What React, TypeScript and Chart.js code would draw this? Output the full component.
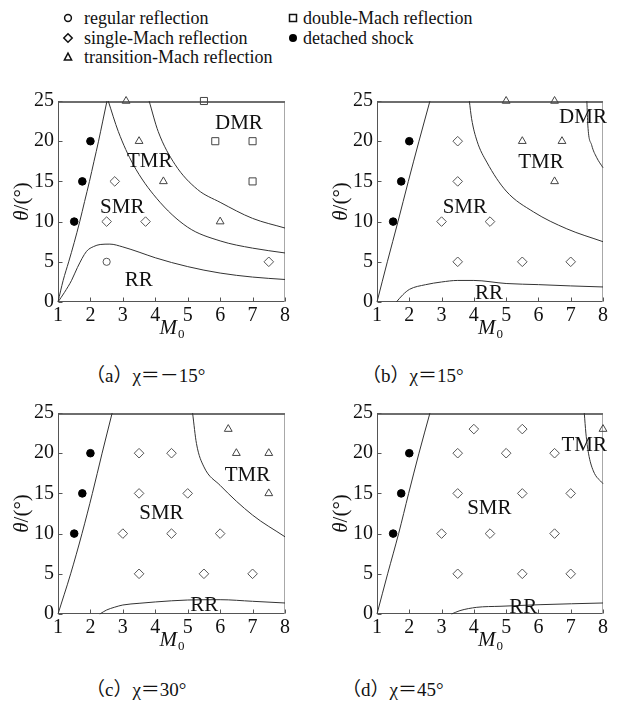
import React, { useEffect, useRef } from "react";
import { Chart, registerables } from "chart.js";

Chart.register(...registerables);

type Pt = [number, number];
type Label = [string, number, number];

const SERIF = "'Liberation Serif', 'Times New Roman', serif";
const TEXT = "#111";
const CURVE = "#333";
const OPEN = "#555";

const M_TICKS = [1, 2, 3, 4, 5, 6, 7, 8];
const THETA_TICKS = [0, 5, 10, 15, 20, 25];

// ---------- (a) chi = -15 deg ----------
const A_REGULAR: Pt[] = [[2.5, 5]];
const A_SINGLE: Pt[] = [[2.5, 10], [3.7, 10], [2.75, 15], [7.5, 5]];
const A_TRANSITION: Pt[] = [[3.1, 25], [3.5, 20], [4.25, 15], [6, 10]];
const A_DOUBLE: Pt[] = [[5.5, 25], [5.85, 20], [7, 20], [7, 15]];
const A_DETACHED: Pt[] = [[1.5, 10], [1.75, 15], [2, 20]];
const A_CURVE_DETACH: Pt[] = [[1, 0], [1.16, 2.7], [1.33, 5], [1.5, 7.4], [1.67, 10], [1.82, 12.5], [1.97, 15], [2.11, 17.5], [2.25, 20], [2.38, 22.5], [2.51, 25]];
const A_CURVE_RR: Pt[] = [[1, 0], [1.2, 1.2], [1.42, 2.7], [1.6, 4.3], [1.88, 6.3], [2.1, 6.9], [2.3, 7.15], [2.6, 7.2], [3, 6.85], [3.5, 6.2], [4, 5.5], [5, 4.4], [6, 3.6], [7, 3.1], [8, 2.8]];
const A_CURVE_SMR: Pt[] = [[2.55, 25], [2.86, 21.2], [3.32, 17.1], [4.04, 12.9], [5, 9.3], [6, 7.6], [7, 6.7], [8, 6.1]];
const A_CURVE_TMR: Pt[] = [[3.81, 25], [4.09, 21.2], [4.61, 17.1], [5.3, 14], [6, 12.4], [7, 10.4], [8, 9.2]];
const A_LABELS: Label[] = [["DMR", 6.58, 22.2], ["TMR", 3.83, 17.5], ["SMR", 2.98, 11.8], ["RR", 3.49, 2.7]];

// ---------- (b) chi = 15 deg ----------
const B_REGULAR: Pt[] = [];
const B_SINGLE: Pt[] = [[3.5, 20], [3.5, 15], [3, 10], [4.5, 10], [3.5, 5], [5.5, 5], [7, 5]];
const B_TRANSITION: Pt[] = [[5, 25], [6.5, 25], [5.5, 20], [6.73, 20], [6.5, 15]];
const B_DOUBLE: Pt[] = [];
const B_DETACHED: Pt[] = [[1.5, 10], [1.75, 15], [2, 20]];
const B_CURVE_DETACH: Pt[] = [[1, 0], [1.32, 5], [1.65, 10], [1.97, 15], [2.3, 20], [2.64, 25]];
const B_CURVE_RR: Pt[] = [[1.6, 0], [1.8, 0.9], [2.01, 1.58], [2.5, 2.15], [3, 2.49], [3.5, 2.68], [4, 2.68], [5, 2.3], [6, 2.16], [7, 2.0], [8, 1.87]];
const B_CURVE_SMR: Pt[] = [[3.86, 25], [3.93, 22.8], [4.1, 20], [4.4, 17.4], [5, 13.8], [5.85, 11.2], [6.88, 9.1], [8, 7.5]];
const B_CURVE_TMR: Pt[] = [[7.5, 25], [7.53, 22], [7.65, 19.5], [7.8, 18], [8, 16.7]];
const B_LABELS: Label[] = [["DMR", 7.38, 23.0], ["TMR", 6.08, 17.4], ["SMR", 3.72, 11.8], ["RR", 4.47, 1.0]];

// ---------- (c) chi = 30 deg ----------
const C_REGULAR: Pt[] = [];
const C_SINGLE: Pt[] = [[3.5, 20], [4.5, 20], [3.5, 15], [5, 15], [3, 10], [4.5, 10], [6, 10], [3.5, 5], [5.5, 5], [7, 5]];
const C_TRANSITION: Pt[] = [[6.25, 23], [6.5, 20], [7.5, 20], [7.5, 15]];
const C_DOUBLE: Pt[] = [];
const C_DETACHED: Pt[] = [[1.5, 10], [1.75, 15], [2, 20]];
const C_CURVE_DETACH: Pt[] = [[1, 0], [1.39, 5], [1.74, 10], [2.06, 15], [2.36, 20], [2.67, 25]];
const C_CURVE_RR: Pt[] = [[2.29, 0], [2.5, 0.5], [2.75, 0.85], [3, 1.12], [3.5, 1.33], [4, 1.5], [5, 1.74], [6, 1.78], [7, 1.58], [8, 1.37]];
const C_CURVE_SMR: Pt[] = [[5.15, 25], [5.27, 21.2], [5.5, 18.3], [6, 16], [7, 12.3], [8, 9.6]];
const C_LABELS: Label[] = [["TMR", 6.84, 17.2], ["SMR", 4.19, 12.5], ["RR", 5.51, 1.0]];

// ---------- (d) chi = 45 deg ----------
const D_REGULAR: Pt[] = [];
const D_SINGLE: Pt[] = [[4, 23], [5.5, 23], [3.5, 20], [5, 20], [6.5, 20], [3.5, 15], [5.5, 15], [7, 15], [3, 10], [4.5, 10], [6.5, 10], [3.5, 5], [5.5, 5], [7, 5]];
const D_TRANSITION: Pt[] = [[8, 23]];
const D_DOUBLE: Pt[] = [];
const D_DETACHED: Pt[] = [[1.5, 10], [1.75, 15], [2, 20]];
const D_CURVE_DETACH: Pt[] = [[1, 0], [1.33, 5], [1.67, 10], [1.98, 15], [2.3, 20], [2.64, 25]];
const D_CURVE_RR: Pt[] = [[3.31, 0], [3.57, 0.42], [4.09, 0.83], [4.81, 0.96], [6.05, 1.16], [8, 1.37]];
const D_CURVE_SMR: Pt[] = [[7.42, 25], [7.47, 22.5], [7.55, 20], [7.7, 17.8], [8, 16.2]];
const D_LABELS: Label[] = [["TMR", 7.42, 21.0], ["SMR", 4.48, 13.1], ["RR", 5.53, 0.83]];

const LEGEND_LEFT = ["regular reflection", "single-Mach reflection", "transition-Mach reflection"];
const LEGEND_RIGHT = ["double-Mach reflection", "detached shock"];

const CAPTIONS = ["（a）χ＝－15°", "（b）χ＝15°", "（c）χ＝30°", "（d）χ＝45°"];

const toXY = (pts: Pt[]) => pts.map(([x, y]) => ({ x, y }));

function line(ctx: CanvasRenderingContext2D, x1: number, y1: number, x2: number, y2: number) {
  ctx.beginPath();
  ctx.moveTo(x1, y1);
  ctx.lineTo(x2, y2);
  ctx.stroke();
}

const framePlugin = {
  id: "frame",
  beforeDatasetsDraw(chart: any) {
    const { ctx, chartArea: ca } = chart;
    const xs = chart.scales.x;
    const ys = chart.scales.y;
    const L = Math.round(ca.left) + 0.5;
    const R = Math.round(ca.right) - 0.5;
    const T = Math.round(ca.top);
    const B = Math.round(ca.bottom) - 0.5;
    ctx.save();
    ctx.lineWidth = 1;
    ctx.strokeStyle = "#a8a8a8";
    line(ctx, R, T, R, B);
    ctx.lineWidth = 2;
    ctx.strokeStyle = "#6e6e6e";
    line(ctx, L - 0.5, T + 1, R + 0.5, T + 1);
    ctx.lineWidth = 1;
    ctx.strokeStyle = "#555";
    line(ctx, L, T, L, B);
    line(ctx, L, B, R, B);
    M_TICKS.forEach((v) => {
      const px = Math.round(xs.getPixelForValue(v)) + 0.5;
      line(ctx, px, B, px, B - 4);
    });
    THETA_TICKS.forEach((v) => {
      const py = Math.round(ys.getPixelForValue(v)) + 0.5;
      line(ctx, L, py, L + 4, py);
    });
    ctx.restore();
  },
  afterDraw(chart: any) {
    const { ctx, chartArea: ca } = chart;
    const opts = chart.options.plugins.frame || {};
    const xs = chart.scales.x;
    const ys = chart.scales.y;
    ctx.save();
    ctx.fillStyle = TEXT;
    // region labels
    ctx.font = `21px ${SERIF}`;
    ctx.textAlign = "center";
    ctx.textBaseline = "middle";
    (opts.labels || []).forEach(([t, x, y]: Label) => {
      ctx.fillText(t, xs.getPixelForValue(x), ys.getPixelForValue(y));
    });
    // x title: italic M with subscript 0
    ctx.textAlign = "left";
    ctx.textBaseline = "alphabetic";
    ctx.font = `italic 21px ${SERIF}`;
    const wM = ctx.measureText("M").width;
    ctx.font = `13px ${SERIF}`;
    const w0 = ctx.measureText("0").width;
    const cx = (ca.left + ca.right) / 2;
    const base = ca.bottom + 32;
    const sx = cx - (wM + w0) / 2;
    ctx.font = `italic 21px ${SERIF}`;
    ctx.fillText("M", sx, base);
    ctx.font = `13px ${SERIF}`;
    ctx.fillText("0", sx + wM + 1, base + 4);
    // y title: italic theta + "/(°)"
    ctx.translate(ca.left - 36, (ca.top + ca.bottom) / 2);
    ctx.rotate(-Math.PI / 2);
    ctx.textBaseline = "middle";
    ctx.font = `italic 21px ${SERIF}`;
    const wT = ctx.measureText("θ").width;
    ctx.font = `21px ${SERIF}`;
    const wR = ctx.measureText("/(°)").width;
    const st = -(wT + wR) / 2;
    ctx.font = `italic 21px ${SERIF}`;
    ctx.fillText("θ", st, 0);
    ctx.font = `21px ${SERIF}`;
    ctx.fillText("/(°)", st + wT, 0);
    ctx.restore();
  },
};

type PanelProps = {
  left: number;
  top: number;
  width: number;
  padRight: number;
  regular: Pt[];
  single: Pt[];
  transition: Pt[];
  double: Pt[];
  detached: Pt[];
  curves: Pt[][];
  labels: Label[];
};

const PANEL_H = 260;

function Panel(p: PanelProps) {
  const ref = useRef<HTMLCanvasElement>(null);
  useEffect(() => {
    const curveSets = p.curves.map((c) => ({
      data: toXY(c),
      showLine: true,
      borderColor: CURVE,
      borderWidth: 1,
      pointRadius: 0,
      cubicInterpolationMode: "monotone",
      fill: false,
      clip: false,
    }));
    const mk = (pts: Pt[], style: string, r: number, fill: string, stroke: string) => ({
      data: toXY(pts),
      showLine: false,
      pointStyle: style,
      pointRadius: r,
      borderWidth: 1,
      borderColor: stroke,
      backgroundColor: fill,
      clip: false,
    });
    const chart = new Chart(ref.current as HTMLCanvasElement, {
      type: "scatter",
      data: {
        datasets: [
          ...curveSets,
          mk(p.regular, "circle", 3.6, "rgba(255,255,255,0)", OPEN),
          mk(p.single, "rectRot", 4.8, "rgba(255,255,255,0)", OPEN),
          mk(p.transition, "triangle", 4.5, "rgba(255,255,255,0)", "#444"),
          mk(p.double, "rect", 5, "rgba(255,255,255,0)", "#444"),
          mk(p.detached, "circle", 3.8, "#000", "#000"),
        ] as any,
      },
      options: {
        responsive: false,
        animation: false,
        events: [],
        layout: { padding: { top: 12, right: p.padRight, left: 0, bottom: 0 } },
        plugins: {
          legend: { display: false },
          tooltip: { enabled: false },
          frame: { labels: p.labels },
        } as any,
        scales: {
          x: {
            type: "linear",
            min: 1,
            max: 8,
            grid: { display: false, drawTicks: false },
            border: { display: false },
            ticks: { padding: 2, color: TEXT, font: { family: SERIF, size: 20 } },
            afterBuildTicks: (s: any) => {
              s.ticks = M_TICKS.map((v) => ({ value: v }));
            },
            afterFit: (s: any) => {
              s.height = PANEL_H - 12 - 201;
              s.paddingLeft = 0;
              s.paddingRight = 0;
            },
          },
          y: {
            type: "linear",
            min: 0,
            max: 25,
            grid: { display: false, drawTicks: false },
            border: { display: false },
            ticks: { padding: 4, color: TEXT, font: { family: SERIF, size: 20 } },
            afterBuildTicks: (s: any) => {
              s.ticks = THETA_TICKS.map((v) => ({ value: v }));
            },
            afterFit: (s: any) => {
              s.width = 58;
              s.paddingTop = 0;
              s.paddingBottom = 0;
            },
          },
        },
      } as any,
      plugins: [framePlugin as any],
    });
    return () => chart.destroy();
  }, []);
  return (
    <canvas
      ref={ref}
      width={p.width}
      height={PANEL_H}
      style={{ position: "absolute", left: p.left, top: p.top, width: p.width, height: PANEL_H }}
    />
  );
}

function Icon({ kind }: { kind: string }) {
  const s = { fill: "none", stroke: "#111", strokeWidth: 1.5 };
  return (
    <svg width="12" height="12" viewBox="0 0 12 12" style={{ display: "block" }}>
      {kind === "circle" && <circle cx="6" cy="6" r="3.4" {...s} />}
      {kind === "diamond" && <polygon points="6,1.8 10.2,6 6,10.2 1.8,6" {...s} />}
      {kind === "triangle" && <polygon points="6,2.2 9.6,9 2.4,9" {...s} />}
      {kind === "square" && <rect x="2.5" y="2.5" width="7" height="7" {...s} />}
      {kind === "dot" && <circle cx="6" cy="6" r="4" fill="#000" />}
    </svg>
  );
}

function LegendItem({ x, y, tx, kind, text }: { x: number; y: number; tx: number; kind: string; text: string }) {
  return (
    <>
      <div style={{ position: "absolute", left: x - 6, top: y - 6 }}>
        <Icon kind={kind} />
      </div>
      <div
        style={{
          position: "absolute",
          left: tx,
          top: y - 11,
          height: 22,
          lineHeight: "22px",
          fontFamily: SERIF,
          fontSize: 18,
          color: TEXT,
          whiteSpace: "nowrap",
        }}
      >
        {text}
      </div>
    </>
  );
}

function Caption({ x, y, text }: { x: number; y: number; text: string }) {
  return (
    <div
      style={{
        position: "absolute",
        left: x,
        top: y - 12,
        height: 24,
        lineHeight: "24px",
        fontFamily: "'Liberation Serif', 'Noto Sans CJK SC', serif",
        fontSize: 19,
        color: TEXT,
        whiteSpace: "nowrap",
      }}
    >
      {text}
    </div>
  );
}

export default function App() {
  const leftKinds = ["circle", "diamond", "triangle"];
  const rightKinds = ["square", "dot"];
  const rows = [18, 38, 57];
  return (
    <div style={{ position: "absolute", left: 0, top: 0, width: 618, height: 704, overflow: "hidden", background: "#fff" }}>
      {LEGEND_LEFT.map((t, i) => (
        <LegendItem key={"l" + i} x={68} y={rows[i]} tx={84} kind={leftKinds[i]} text={t} />
      ))}
      {LEGEND_RIGHT.map((t, i) => (
        <LegendItem key={"r" + i} x={293} y={rows[i]} tx={303} kind={rightKinds[i]} text={t} />
      ))}
      <Panel
        left={0}
        top={89}
        width={300}
        padRight={15}
        regular={A_REGULAR}
        single={A_SINGLE}
        transition={A_TRANSITION}
        double={A_DOUBLE}
        detached={A_DETACHED}
        curves={[A_CURVE_DETACH, A_CURVE_RR, A_CURVE_SMR, A_CURVE_TMR]}
        labels={A_LABELS}
      />
      <Panel
        left={319}
        top={89}
        width={296}
        padRight={12}
        regular={B_REGULAR}
        single={B_SINGLE}
        transition={B_TRANSITION}
        double={B_DOUBLE}
        detached={B_DETACHED}
        curves={[B_CURVE_DETACH, B_CURVE_RR, B_CURVE_SMR, B_CURVE_TMR]}
        labels={B_LABELS}
      />
      <Panel
        left={0}
        top={401}
        width={300}
        padRight={15}
        regular={C_REGULAR}
        single={C_SINGLE}
        transition={C_TRANSITION}
        double={C_DOUBLE}
        detached={C_DETACHED}
        curves={[C_CURVE_DETACH, C_CURVE_RR, C_CURVE_SMR]}
        labels={C_LABELS}
      />
      <Panel
        left={319}
        top={401}
        width={296}
        padRight={12}
        regular={D_REGULAR}
        single={D_SINGLE}
        transition={D_TRANSITION}
        double={D_DOUBLE}
        detached={D_DETACHED}
        curves={[D_CURVE_DETACH, D_CURVE_RR, D_CURVE_SMR]}
        labels={D_LABELS}
      />
      <Caption x={86} y={376} text={CAPTIONS[0]} />
      <Caption x={362} y={376} text={CAPTIONS[1]} />
      <Caption x={86} y={690} text={CAPTIONS[2]} />
      <Caption x={342} y={690} text={CAPTIONS[3]} />
    </div>
  );
}
